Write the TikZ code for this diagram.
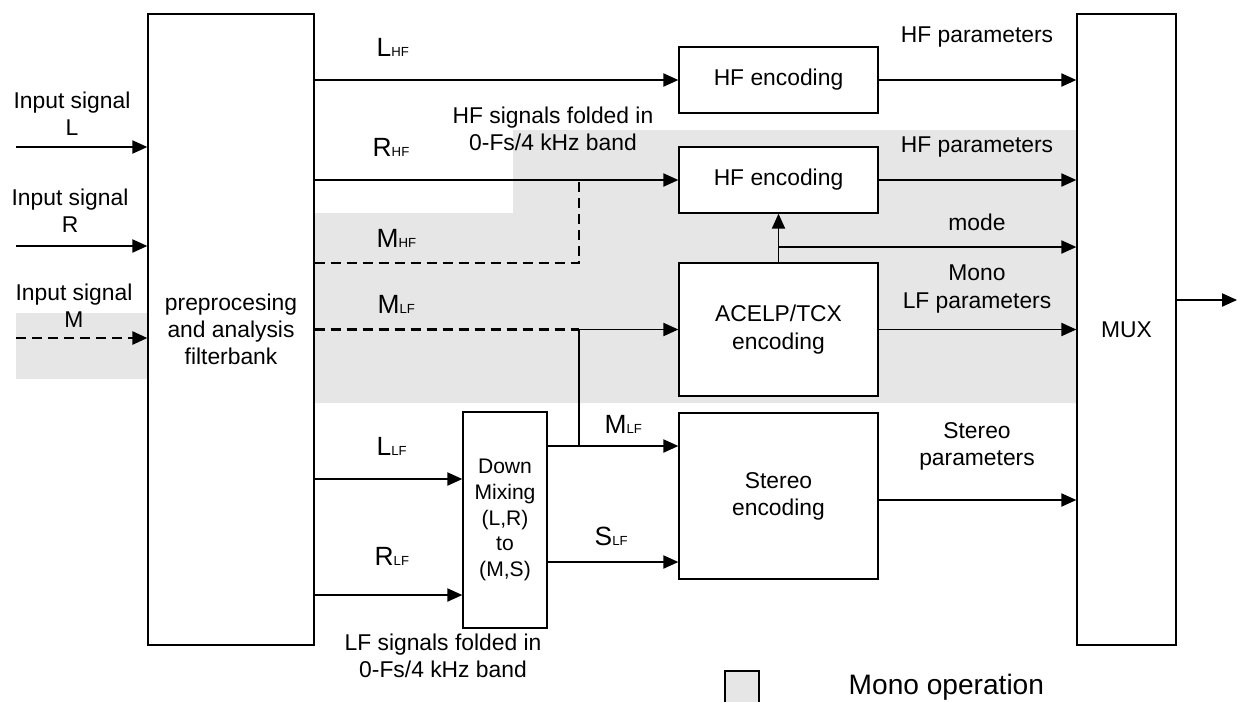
\documentclass[tikz,border=0pt]{standalone}
\usepackage{fontspec}
\setmainfont{Liberation Sans}
\usetikzlibrary{arrows.meta}
\definecolor{monogray}{HTML}{E6E6E6}
\newcommand{\sig}[2]{{\fontsize{15}{17}\selectfont #1}{\fontsize{7.5}{9}\selectfont #2}}

\begin{document}
\begin{tikzpicture}[x=0.02cm,y=-0.02cm,line width=0.8pt,
  txt/.style={font=\fontsize{13}{15.5}\selectfont,align=center,inner sep=0pt},
  blk/.style={draw,fill=white,txt},
  arr/.style={-{Triangle[length=8.5pt,width=7.5pt]}},
  dsh/.style={line width=1.2pt,dash pattern=on 5.7pt off 3.4pt},
  lbl/.style={anchor=base west,inner sep=0pt}]
  \useasboundingbox (0,0) rectangle (1237,701);

  % --- Mono operation areas ---
  \path[fill=monogray] (16,313) rectangle (148,379);
  \path[fill=monogray] (314,213) -- (513,213) -- (513,130) -- (1077,130)
       -- (1077,403) -- (314,403) -- cycle;

  % --- Blocks ---
  \node[blk,minimum width=3.32cm,minimum height=12.62cm] (pre) at (231,329.5)
       {preprocesing\\and analysis\\filterbank};
  \node[blk,minimum width=1.98cm,minimum height=12.62cm] (mux) at (1126.5,329.5)
       {MUX};
  \node[blk,minimum width=3.98cm,minimum height=1.32cm] (hf1) at (778.5,80)
       {HF encoding};
  \node[blk,minimum width=3.98cm,minimum height=1.32cm] (hf2) at (778.5,180)
       {HF encoding};
  \node[blk,minimum width=3.98cm,minimum height=2.66cm] (acelp) at (778.5,329.5)
       {ACELP/TCX\\encoding};
  \node[blk,minimum width=3.98cm,minimum height=3.32cm] (st) at (778.5,496)
       {Stereo\\encoding};
  \node[blk,minimum width=1.68cm,minimum height=4.32cm,
        font=\fontsize{12}{14.6}\selectfont] (dmix) at (505,520)
       {Down\\Mixing\\(L,R)\\to\\(M,S)};

  % --- Signal levels ---
  \coordinate (inL) at (16,147);
  \coordinate (inR) at (16,246);
  \coordinate (inM) at (16,338);
  \coordinate (ymhf) at (0,263);
  \coordinate (jhf) at (579,180);
  \coordinate (jlf) at (579,0);
  \coordinate (ymlf) at (0,446);
  \coordinate (yslf) at (0,562);
  \coordinate (yllf) at (0,479);
  \coordinate (yrlf) at (0,595);
  \coordinate (ymode) at (0,247);
  \coordinate (ystp) at (0,500);
  \coordinate (out) at (1237,300);

  % --- Inputs ---
  \draw[arr] (inL) -- (pre.west |- inL);
  \draw[arr] (inR) -- (pre.west |- inR);
  \draw[arr,dsh] (inM) -- (pre.west |- inM);

  % --- Filterbank outputs ---
  \draw[arr] (pre.east |- hf1.west) -- (hf1.west);
  \draw[arr] (pre.east |- hf2.west) -- (hf2.west);
  \draw[dsh] (pre.east |- ymhf) -| (jhf);
  \draw[dsh] (pre.east |- acelp.west) -- (jlf |- acelp.west);
  \draw[arr] (jlf |- acelp.west) -- (acelp.west);
  \draw (jlf |- ymlf) -- (jlf |- acelp.west);
  \draw[arr] (pre.east |- yllf) -- (dmix.west |- yllf);
  \draw[arr] (pre.east |- yrlf) -- (dmix.west |- yrlf);
  \draw[arr] (dmix.east |- ymlf) -- (st.west |- ymlf);
  \draw[arr] (dmix.east |- yslf) -- (st.west |- yslf);

  % --- Encoder outputs ---
  \draw[arr] (acelp.north) -- (hf2.south);
  \draw[arr] (acelp.north |- ymode) -- (mux.west |- ymode);
  \draw[arr] (hf1.east) -- (mux.west |- hf1.east);
  \draw[arr] (hf2.east) -- (mux.west |- hf2.east);
  \draw[arr] (acelp.east) -- (mux.west |- acelp.east);
  \draw[arr] (st.east |- ystp) -- (mux.west |- ystp);
  \draw[arr] (mux.east |- out) -- (out);

  % --- Labels ---
  \node[txt] (inLtxt) at (72,114) {Input signal\\L};
  \node[txt] (inRtxt) at (70,211) {Input signal\\R};
  \node[txt] (inMtxt) at (74,306) {Input signal\\M};
  \node[lbl] (lhf) at (376,56) {\sig{L}{HF}};
  \node[lbl] (rhf) at (372,156) {\sig{R}{HF}};
  \node[lbl] (mhf) at (376,247) {\sig{M}{HF}};
  \node[lbl] (mlf) at (377,313) {\sig{M}{LF}};
  \node[lbl] (llf) at (376,455) {\sig{L}{LF}};
  \node[lbl] (rlf) at (374,565) {\sig{R}{LF}};
  \node[lbl] (mlfb) at (604,433) {\sig{M}{LF}};
  \node[lbl] (slf) at (594,545) {\sig{S}{LF}};
  \node[txt] (hfnote) at (553,129) {HF signals folded in\\0-Fs/4 kHz band};
  \node[txt] (lfnote) at (443,656) {LF signals folded in\\0-Fs/4 kHz band};
  \node[txt] (hfpar1) at (977,37) {HF parameters};
  \node[txt] (hfpar2) at (977,147) {HF parameters};
  \node[txt] (modetxt) at (977,222) {mode};
  \node[txt] (monopar) at (977,289) {Mono\\LF parameters};
  \node[txt] (stpar) at (977,446) {Stereo\\parameters};

  % --- Legend ---
  \node[draw,fill=monogray,minimum width=0.68cm,minimum height=0.68cm] (key)
       at (742,688) {};
  \node[anchor=west,inner sep=0pt,font=\fontsize{16}{19}\selectfont] (keytxt)
       at (848,687) {Mono operation};
\end{tikzpicture}
\end{document}
